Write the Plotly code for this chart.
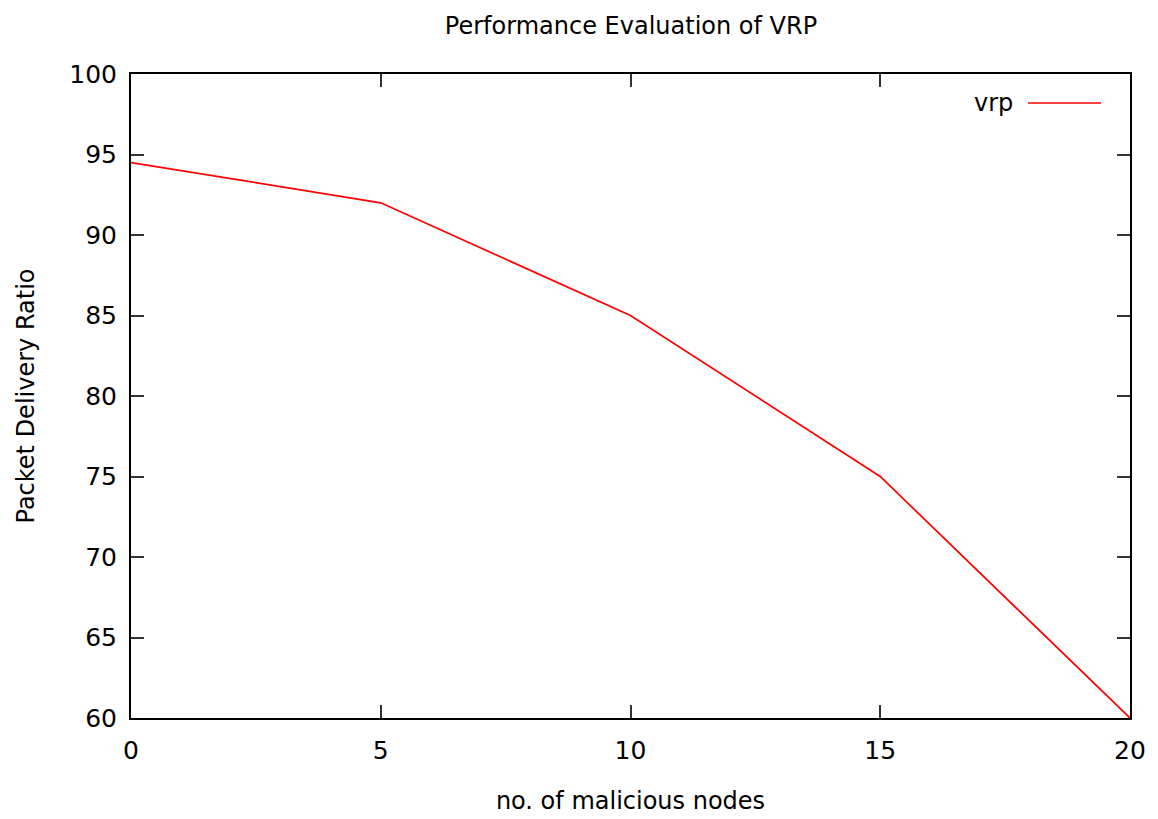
import plotly.graph_objects as go

nodes = [0, 5, 10, 15, 20]
pdr_vrp = [94.5, 92, 85, 75, 60]
series_name = "vrp"
x_ticks = [0, 5, 10, 15, 20]
y_ticks = [60, 65, 70, 75, 80, 85, 90, 95, 100]

FONT = "DejaVu Sans"

fig = go.Figure()
fig.add_trace(go.Scatter(x=nodes, y=pdr_vrp, mode="lines", name=series_name,
                         line=dict(color="#ff0000", width=1.7), showlegend=False))

axis_common = dict(showline=True, linecolor="black", linewidth=2, mirror="ticks",
                   ticks="inside", ticklen=13, tickwidth=1.5, tickcolor="#333333",
                   showgrid=False, zeroline=False,
                   tickfont=dict(family=FONT, size=25, color="black"))

fig.update_xaxes(range=[0, 20], tickvals=x_ticks, ticklabelstandoff=9,
                 title=dict(text="no. of malicious nodes", font=dict(family=FONT, size=24, color="black"), standoff=28),
                 **axis_common)
fig.update_yaxes(range=[60, 100], tickvals=y_ticks, ticklabelstandoff=7,
                 title=dict(text="Packet Delivery Ratio", font=dict(family=FONT, size=24, color="black"), standoff=28),
                 **axis_common)

# legend key (gnuplot style: text then line sample)
fig.add_annotation(xref="paper", yref="paper", x=0.885, y=0.955, text=series_name,
                   showarrow=False, xanchor="right", yanchor="middle",
                   font=dict(family=FONT, size=24, color="black"))
fig.add_shape(type="line", xref="paper", yref="paper", x0=0.898, x1=0.971, y0=0.955, y1=0.955,
              line=dict(color="#ff0000", width=1.7))

fig.update_layout(
    width=1158, height=819,
    margin=dict(l=123, r=36, t=66, b=109),
    plot_bgcolor="white", paper_bgcolor="white",
    title=dict(text="Performance Evaluation of VRP", x=0.538, xanchor="center", y=0.979, yanchor="middle",
               font=dict(family=FONT, size=24, color="black")),
)

fig.write_html("out.html")
